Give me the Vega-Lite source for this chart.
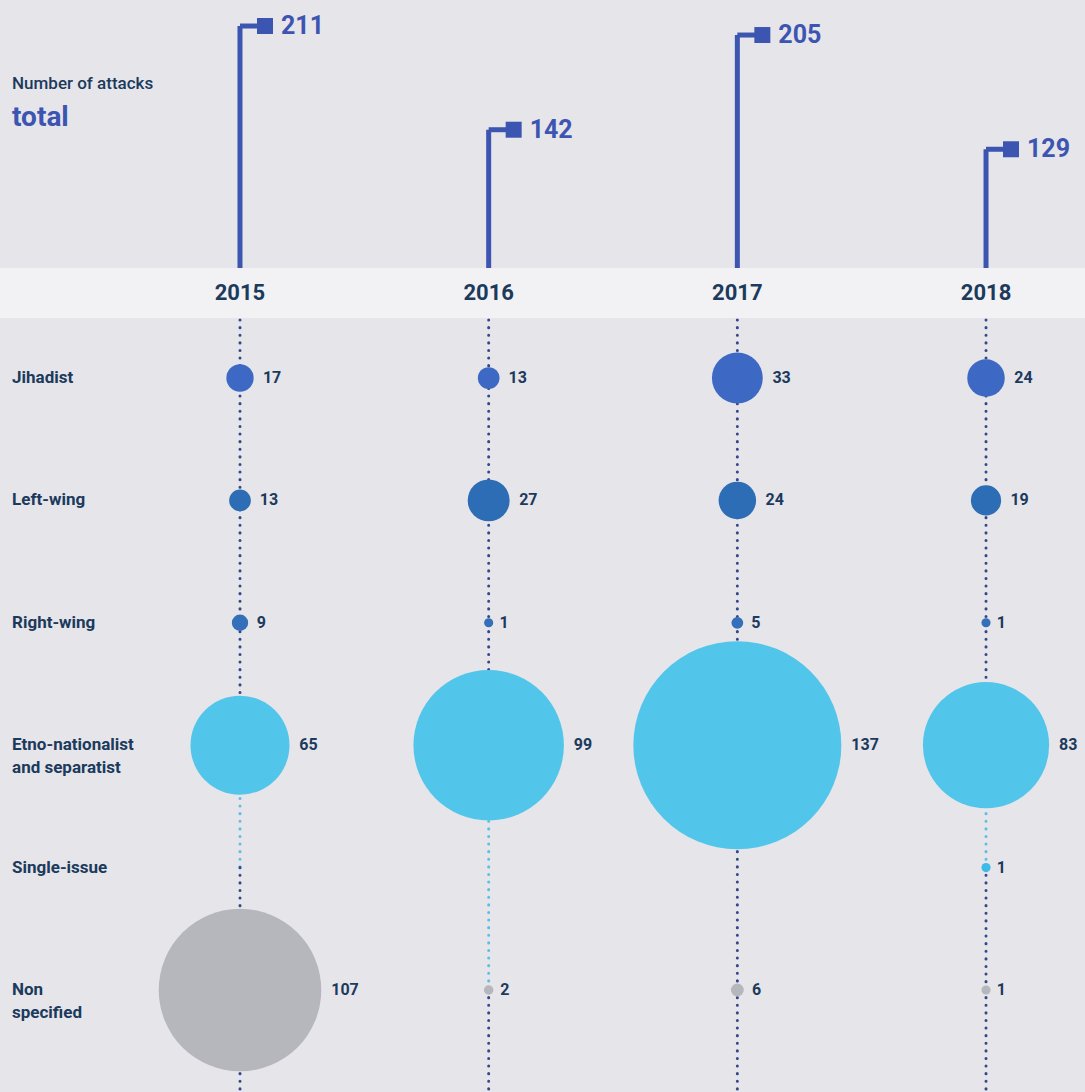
{
  "$schema": "https://vega.github.io/schema/vega-lite/v6.json",
  "width": 1085,
  "height": 1092,
  "autosize": {"type": "fit", "contains": "padding"},
  "padding": 0,
  "background": "#e6e5ea",
  "config": {"view": {"stroke": null}, "font": "Roboto"},
  "datasets": {
    "totals": [
      {"year": 2015, "total": 211},
      {"year": 2016, "total": 142},
      {"year": 2017, "total": 205},
      {"year": 2018, "total": 129}
    ],
    "cats": [
      {"year": 2015, "category": "Jihadist", "value": 17},
      {"year": 2016, "category": "Jihadist", "value": 13},
      {"year": 2017, "category": "Jihadist", "value": 33},
      {"year": 2018, "category": "Jihadist", "value": 24},
      {"year": 2015, "category": "Left-wing", "value": 13},
      {"year": 2016, "category": "Left-wing", "value": 27},
      {"year": 2017, "category": "Left-wing", "value": 24},
      {"year": 2018, "category": "Left-wing", "value": 19},
      {"year": 2015, "category": "Right-wing", "value": 9},
      {"year": 2016, "category": "Right-wing", "value": 1},
      {"year": 2017, "category": "Right-wing", "value": 5},
      {"year": 2018, "category": "Right-wing", "value": 1},
      {"year": 2015, "category": "Etno-nationalist and separatist", "value": 65},
      {"year": 2016, "category": "Etno-nationalist and separatist", "value": 99},
      {"year": 2017, "category": "Etno-nationalist and separatist", "value": 137},
      {"year": 2018, "category": "Etno-nationalist and separatist", "value": 83},
      {"year": 2018, "category": "Single-issue", "value": 1},
      {"year": 2015, "category": "Non specified", "value": 107},
      {"year": 2016, "category": "Non specified", "value": 2},
      {"year": 2017, "category": "Non specified", "value": 6},
      {"year": 2018, "category": "Non specified", "value": 1}
    ],
    "labels": [
      {"category": "Jihadist", "label": "Jihadist"},
      {"category": "Left-wing", "label": "Left-wing"},
      {"category": "Right-wing", "label": "Right-wing"},
      {"category": "Etno-nationalist and separatist", "label": "Etno-nationalist\nand separatist"},
      {"category": "Single-issue", "label": "Single-issue"},
      {"category": "Non specified", "label": "Non\nspecified"}
    ],
    "segs": [
      {"year": 2015, "from": "Jihadist", "to": "Etno-nationalist and separatist", "part": "top"},
      {"year": 2016, "from": "Jihadist", "to": "Etno-nationalist and separatist", "part": "top"},
      {"year": 2017, "from": "Jihadist", "to": "Etno-nationalist and separatist", "part": "top"},
      {"year": 2018, "from": "Jihadist", "to": "Etno-nationalist and separatist", "part": "top"},
      {"year": 2015, "from": "Etno-nationalist and separatist", "to": "Single-issue", "part": "light"},
      {"year": 2016, "from": "Etno-nationalist and separatist", "to": "Non specified", "part": "light"},
      {"year": 2018, "from": "Etno-nationalist and separatist", "to": "Single-issue", "part": "light"},
      {"year": 2015, "from": "Single-issue", "to": "Non specified", "part": "dark"},
      {"year": 2017, "from": "Etno-nationalist and separatist", "to": "Non specified", "part": "dark"},
      {"year": 2018, "from": "Single-issue", "to": "Non specified", "part": "dark"},
      {"year": 2015, "from": "Non specified", "to": "Non specified", "part": "bottom"},
      {"year": 2016, "from": "Non specified", "to": "Non specified", "part": "bottom"},
      {"year": 2017, "from": "Non specified", "to": "Non specified", "part": "bottom"},
      {"year": 2018, "from": "Non specified", "to": "Non specified", "part": "bottom"}
    ]
  },
  "layer": [
    {
      "layer": [
        {
          "data": {"name": "totals"},
          "mark": {"type": "rect", "color": "#f2f2f4"},
          "encoding": {
            "x": {"datum": 2014.035, "type": "quantitative", "scale": {"domain": [2014.035, 2018.398], "nice": false, "zero": false}, "axis": null},
            "x2": {"datum": 2018.398},
            "y": {"datum": 50, "type": "quantitative", "scale": {"domain": [50, 215], "range": [268, 20], "nice": false, "zero": false}, "axis": null},
            "y2": {"datum": 16.7}
          }
        },
        {
          "data": {"name": "totals"},
          "mark": {"type": "rule", "color": "#3c55b1", "strokeWidth": 5},
          "encoding": {
            "x": {"field": "year", "type": "quantitative"},
            "y": {"field": "total", "type": "quantitative"},
            "y2": {"datum": 50}
          }
        },
        {
          "data": {"name": "totals"},
          "mark": {"type": "rule", "color": "#3c55b1", "strokeWidth": 5, "x2Offset": 22},
          "encoding": {
            "x": {"field": "year", "type": "quantitative"},
            "x2": {"field": "year"},
            "y": {"field": "total", "type": "quantitative"}
          }
        },
        {
          "data": {"name": "totals"},
          "mark": {"type": "point", "shape": "square", "filled": true, "opacity": 1, "color": "#3c55b1", "size": 256, "xOffset": 25},
          "encoding": {
            "x": {"field": "year", "type": "quantitative"},
            "y": {"field": "total", "type": "quantitative"}
          }
        },
        {
          "data": {"name": "totals"},
          "mark": {"type": "text", "color": "#3c55b1", "fontSize": 25, "fontWeight": "bold", "align": "left", "baseline": "middle", "dx": 41},
          "encoding": {
            "x": {"field": "year", "type": "quantitative"},
            "y": {"field": "total", "type": "quantitative"},
            "text": {"field": "total"}
          }
        },
        {
          "data": {"name": "totals"},
          "mark": {"type": "text", "color": "#1b3a5c", "fontSize": 22, "fontWeight": "bold", "align": "center", "baseline": "middle"},
          "encoding": {
            "x": {"field": "year", "type": "quantitative"},
            "y": {"datum": 33.4, "type": "quantitative"},
            "text": {"field": "year"}
          }
        },
        {
          "data": {"values": [{"label": "Number of attacks"}]},
          "mark": {"type": "text", "color": "#1b3a5c", "fontSize": 17, "fontWeight": 500, "align": "left", "baseline": "middle", "dx": 12},
          "encoding": {
            "x": {"datum": 2014.035, "type": "quantitative"},
            "y": {"datum": 172.4, "type": "quantitative"},
            "text": {"field": "label"}
          }
        },
        {
          "data": {"values": [{"label": "total"}]},
          "mark": {"type": "text", "color": "#3c55b1", "fontSize": 28, "fontWeight": "bold", "align": "left", "baseline": "middle", "dx": 12},
          "encoding": {
            "x": {"datum": 2014.035, "type": "quantitative"},
            "y": {"datum": 149.8, "type": "quantitative"},
            "text": {"field": "label"}
          }
        }
      ]
    },
    {
      "layer": [
        {
          "data": {"name": "segs"},
          "transform": [{"filter": "datum.part == 'top'"}],
          "mark": {"type": "rule", "color": "#34478a", "strokeWidth": 3, "strokeDash": [0.1, 7.5], "strokeCap": "round", "yOffset": -58},
          "encoding": {
            "x": {"field": "year", "type": "ordinal", "bandPosition": 0, "scale": {"type": "band", "domain": [2014, 2015, 2016, 2017, 2018], "range": [-8.67, 1234.68], "paddingInner": 0, "paddingOuter": 0}, "axis": null},
            "y": {"field": "from", "type": "nominal", "scale": {"type": "point", "domain": ["Jihadist", "Left-wing", "Right-wing", "Etno-nationalist and separatist", "Single-issue", "Non specified"], "range": [378, 990], "padding": 0}, "axis": null},
            "y2": {"field": "to"}
          }
        },
        {
          "data": {"name": "segs"},
          "transform": [{"filter": "datum.part == 'light'"}],
          "mark": {"type": "rule", "color": "#5cbfe6", "strokeWidth": 3, "strokeDash": [0.1, 7.5], "strokeCap": "round"},
          "encoding": {
            "x": {"field": "year", "type": "ordinal", "bandPosition": 0},
            "y": {"field": "from", "type": "nominal"},
            "y2": {"field": "to"}
          }
        },
        {
          "data": {"name": "segs"},
          "transform": [{"filter": "datum.part == 'dark'"}],
          "mark": {"type": "rule", "color": "#34478a", "strokeWidth": 3, "strokeDash": [0.1, 7.5], "strokeCap": "round"},
          "encoding": {
            "x": {"field": "year", "type": "ordinal", "bandPosition": 0},
            "y": {"field": "from", "type": "nominal"},
            "y2": {"field": "to"}
          }
        },
        {
          "data": {"name": "segs"},
          "transform": [{"filter": "datum.part == 'bottom'"}],
          "mark": {"type": "rule", "color": "#34478a", "strokeWidth": 3, "strokeDash": [0.1, 7.5], "strokeCap": "round", "y2Offset": 104},
          "encoding": {
            "x": {"field": "year", "type": "ordinal", "bandPosition": 0},
            "y": {"field": "from", "type": "nominal"},
            "y2": {"field": "to"}
          }
        },
        {
          "data": {"name": "cats"},
          "mark": {"type": "circle", "opacity": 1},
          "encoding": {
            "x": {"field": "year", "type": "ordinal", "bandPosition": 0},
            "y": {"field": "category", "type": "nominal"},
            "size": {"field": "value", "type": "quantitative", "scale": {"type": "pow", "exponent": 2, "domain": [0, 137], "range": [81, 43264]}, "legend": null},
            "color": {"field": "category", "type": "nominal", "scale": {"domain": ["Jihadist", "Left-wing", "Right-wing", "Etno-nationalist and separatist", "Single-issue", "Non specified"], "range": ["#3d68c3", "#2c6db6", "#3470ba", "#52c5eb", "#3dbbe8", "#b6b7bd"]}, "legend": null}
          }
        },
        {
          "data": {"name": "cats"},
          "mark": {"type": "text", "color": "#1b3a5c", "fontSize": 16, "fontWeight": "bold", "align": "left", "baseline": "middle"},
          "encoding": {
            "x": {"field": "year", "type": "ordinal"},
            "xOffset": {"field": "value", "type": "quantitative", "scale": {"domain": [0, 137], "range": [10, 114], "zero": false, "nice": false}},
            "y": {"field": "category", "type": "nominal"},
            "text": {"field": "value"}
          }
        },
        {
          "data": {"name": "labels"},
          "mark": {"type": "text", "color": "#1b3a5c", "fontSize": 17, "fontWeight": "bold", "align": "left", "baseline": "middle", "dx": 20.7, "lineBreak": "\n", "lineHeight": 23},
          "encoding": {
            "x": {"datum": 2014, "type": "ordinal", "bandPosition": 0},
            "y": {"field": "category", "type": "nominal"},
            "text": {"field": "label"}
          }
        }
      ]
    }
  ],
  "resolve": {"scale": {"y": "independent", "x": "independent"}}
}
